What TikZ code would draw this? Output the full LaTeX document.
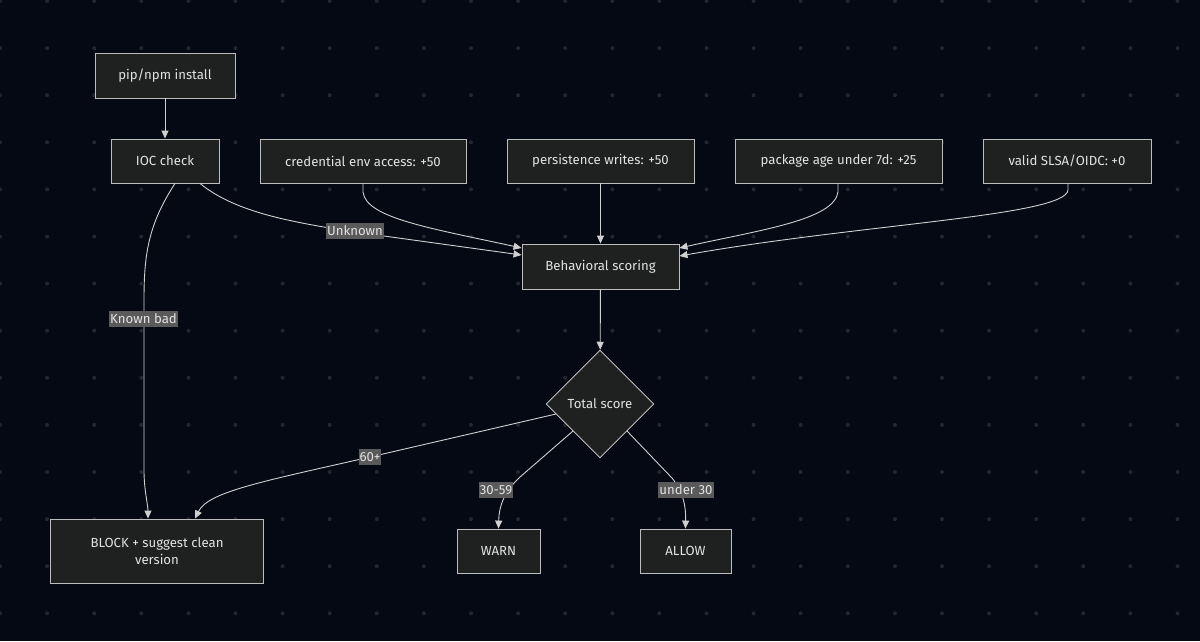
\documentclass[tikz,border=0pt]{standalone}
\usepackage{fontspec}
\setmainfont{Fira Sans}
\usetikzlibrary{shapes.geometric,arrows.meta,calc}
\definecolor{bgc}{HTML}{050914}
\definecolor{boxfill}{HTML}{1F2020}
\definecolor{boxline}{HTML}{BDBDBD}
\definecolor{txt}{HTML}{E2E2E2}
\definecolor{lblfill}{HTML}{5A5A5A}
\definecolor{edgec}{HTML}{D0D0D0}
\definecolor{dotc}{HTML}{22272F}
\tikzset{
  nbox/.style={draw=boxline, fill=boxfill, line width=0.9pt, text=txt, inner sep=2pt,
    font=\fontsize{13.2}{17}\selectfont, minimum height=44pt},
  ndiam/.style={diamond, draw=boxline, fill=boxfill, line width=0.9pt, text=txt, inner sep=0pt,
    font=\fontsize{13.2}{17}\selectfont, minimum width=108pt, minimum height=108pt},
  conn/.style={draw=edgec, line width=0.9pt, -{Triangle[length=8pt,width=7pt]}},
  elabel/.style={fill=lblfill, text=txt, inner xsep=1pt, inner ysep=3pt, font=\fontsize{13.2}{15}\selectfont}
}
\begin{document}
\begin{tikzpicture}[x=1pt,y=-1pt]
\fill[bgc] (0,0) rectangle (1200,641);
\useasboundingbox (0,0) rectangle (1200,641);
% dot grid
\foreach \i in {0,...,25} {
  \foreach \j in {0,...,13} {
    \fill[dotc] (47.1*\i, 1+47.1*\j) circle (2pt);
  }
}
% nodes
\node[nbox, minimum width=140pt, minimum height=45pt] (pip) at (165,75.5) {pip/npm install};
\node[nbox, minimum width=108pt] (ioc) at (165,161) {IOC check};
\node[nbox, minimum width=206pt] (cred) at (363,161) {credential env access: +50};
\node[nbox, minimum width=187pt] (pers) at (600.5,161) {persistence writes: +50};
\node[nbox, minimum width=207pt] (pkg) at (838.5,161) {package age under 7d: +25};
\node[nbox, minimum width=168pt] (slsa) at (1067,161) {valid SLSA/OIDC: +0};
\node[nbox, minimum width=157pt, minimum height=45pt] (beh) at (600.5,266.5) {Behavioral scoring};
\node[ndiam] (tot) at (600,404) {Total score};
\node[nbox, minimum width=213pt, minimum height=64pt, align=center] (block) at (157,551) {BLOCK + suggest clean\\version};
\node[nbox, minimum width=83pt] (warn) at (498.5,551) {WARN};
\node[nbox, minimum width=91pt] (allow) at (685.5,551) {ALLOW};
% edges
\draw[conn] (pip) -- (ioc);
\draw[conn] ([xshift=10pt]ioc.south) .. controls (148,225) and (144,255) .. (144,300)
  -- (144,470) .. controls (144,490) and (148,505) .. ([xshift=-9pt]block.north);
\node[elabel] (lkb) at (143.5,319) {Known bad};
\draw[conn] ([xshift=35pt]ioc.south) .. controls (235,212) and (290,222) .. (355,232)
  -- ([yshift=11.5pt]beh.west);
\node[elabel] (lunk) at (355,231) {Unknown};
\draw[conn] (cred.south) -- (363,192) .. controls (366,218) and (430,228) .. ([yshift=18.5pt]beh.west);
\draw[conn] (pers) -- (beh);
\draw[conn] ([xshift=-0.5pt]pkg.south) -- (838,192) .. controls (834,220) and (760,230) .. ([yshift=18.5pt]beh.east);
\draw[conn] ([xshift=1pt]slsa.south) -- (1068,190) .. controls (1066,216) and (860,224) .. ([yshift=10.5pt]beh.east);
\draw[conn] (beh) -- (tot);
\draw[conn] (556,414) -- (370,457) .. controls (260,482) and (208,492) .. ([xshift=38pt]block.north);
\node[elabel] (l60) at (370,457) {60+};
\draw[conn] (573,431) -- (520,477) .. controls (505,491) and (499,505) .. (warn.north);
\node[elabel] (l30) at (496,490) {30-59};
\draw[conn] (627,431) -- (672,478) .. controls (683,492) and (686,505) .. (allow.north);
\node[elabel] (lund) at (686,490) {under 30};
\end{tikzpicture}
\end{document}
